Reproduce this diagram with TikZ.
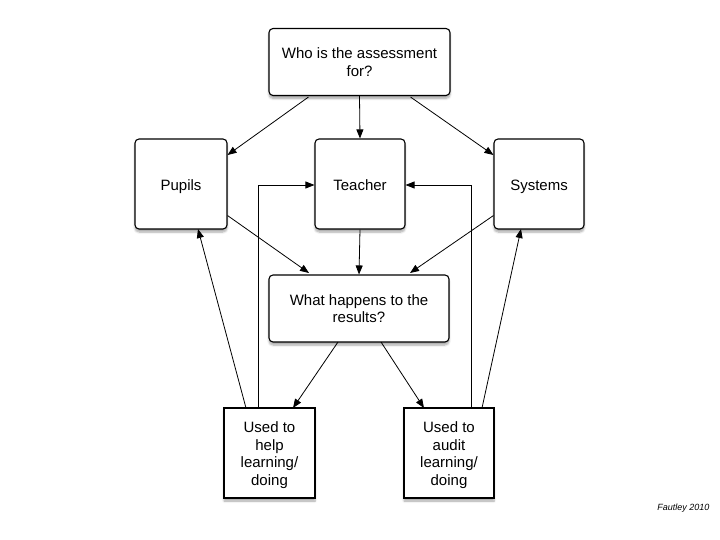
\documentclass[tikz,border=0pt]{standalone}
\usepackage{fontspec}
\setmainfont{Liberation Sans}
\usetikzlibrary{arrows.meta,shadows.blur}
\begin{document}
\begin{tikzpicture}[x=1pt,y=-1pt,
  box/.style={draw,line width=1.1pt,fill=white,rounded corners=4pt,align=center,
    inner sep=2pt,font=\fontsize{15}{17.5}\selectfont,
    blur shadow={shadow blur steps=6,shadow xshift=0pt,shadow yshift=-3pt,shadow opacity=35}},
  onebox/.style={box,text height=14pt,text depth=1pt},
  sqbox/.style={box,rounded corners=0pt},
  arr/.style={-{Triangle[length=9pt,width=7pt]},line width=0.8pt}]
\useasboundingbox (0,0) rectangle (720,540);
\node[box,minimum width=181pt,minimum height=67pt] (who) at (359.5,62) {Who is the assessment\\for?};
\node[onebox,minimum width=92pt,minimum height=90pt] (pupils) at (181,184) {Pupils};
\node[onebox,minimum width=90pt,minimum height=90pt] (teacher) at (360,184) {Teacher};
\node[onebox,minimum width=90pt,minimum height=90pt] (systems) at (539,184) {Systems};
\node[box,minimum width=180pt,minimum height=67pt] (what) at (359,308.5) {What happens to the\\results?};
\node[sqbox,minimum width=91pt,minimum height=90pt] (help) at (269.5,453) {\rule{0pt}{15pt}Used to\\help\\learning/\\doing};
\node[sqbox,minimum width=90pt,minimum height=90pt] (audit) at (449,453) {\rule{0pt}{15pt}Used to\\audit\\learning/\\doing};
\node[anchor=east,font=\fontsize{9}{11}\selectfont\itshape] (foot) at (713,508) {Fautley 2010};
% top fan-out
\draw[arr] (who.south west) ++(40,1) -- (pupils.north east |- 0,155);
\draw[arr] (who.south) -- (teacher.north);
\draw[arr] (who.south east) ++(-40,1) -- (systems.north west |- 0,155);
% into middle
\draw[arr] (pupils.south east) ++(0,-14) -- (309,273);
\draw[arr] (teacher.south) -- (what.north);
\draw[arr] (systems.south west) ++(0,-14) -- (410,273);
% out of middle
\draw[arr] (338,342) -- (293,408);
\draw[arr] (381,342) -- (424,408);
% feedback
\draw[arr] (246,408) -- (198,229);
\draw[arr] (258,408) -- (258,185) -- (teacher.west |- 0,185);
\draw[arr] (471,408) -- (471,185) -- (teacher.east |- 0,185);
\draw[arr] (482,408) -- (521,229);
\end{tikzpicture}
\end{document}
